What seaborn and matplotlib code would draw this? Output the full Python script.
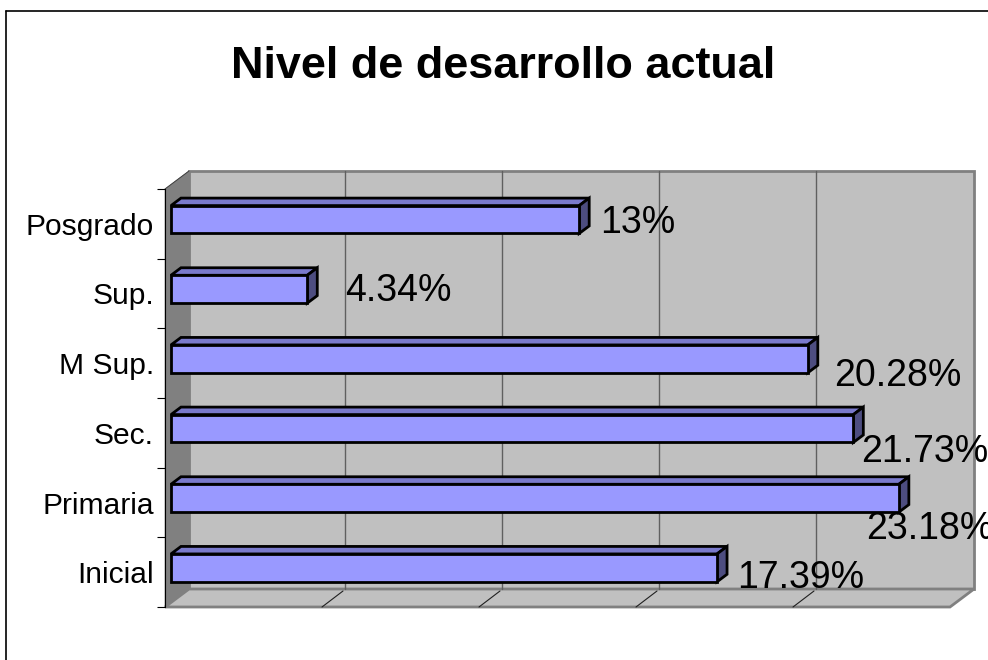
import matplotlib
matplotlib.use("Agg")
import matplotlib.pyplot as plt
from matplotlib.patches import Polygon, Rectangle
from matplotlib.transforms import Affine2D
import seaborn as sns

categories = ["Posgrado", "Sup.", "M Sup.", "Sec.", "Primaria", "Inicial"]
values = [13, 4.34, 20.28, 21.73, 23.18, 17.39]
value_labels = ["13%", "4.34%", "20.28%", "21.73%", "23.18%", "17.39%"]
title = "Nivel de desarrollo actual"

sns.set_theme(style="white")
plt.rcParams["font.family"] = ["Liberation Sans", "DejaVu Sans"]

W, H = 988, 660
fig = plt.figure(figsize=(W / 100, H / 100), dpi=100, facecolor="white")
# Front plane of the 3D box
L, R, T, B = 165, 950, 189, 607
ax = fig.add_axes([L / W, 1 - B / H, (R - L) / W, (B - T) / H])
ax.patch.set_alpha(0)

EDGE = 2.0
sns.barplot(y=categories, x=values, color="#9999FF", saturation=1, width=0.4,
            edgecolor="black", linewidth=EDGE, ax=ax, zorder=4)
ax.set_xlim(0, 25)
ax.set_ylim(5.5, -0.5)
ax.set_xlabel("")
ax.set_ylabel("")
for s in ["top", "right", "bottom"]:
    ax.spines[s].set_visible(False)
ax.spines["left"].set_color("black")
ax.spines["left"].set_linewidth(0.8)
ax.set_xticks([])
ax.set_yticks(range(len(categories)))
ax.set_yticklabels(categories, fontsize=21.6, color="black")
ax.tick_params(axis="y", which="major", length=0, pad=8, left=True)
ax.set_yticks([i - 0.5 for i in range(len(categories) + 1)], minor=True)
ax.tick_params(axis="y", which="minor", length=6, width=0.8, color="black", left=True)

pix = Affine2D().scale(1, -1).translate(0, H)  # pixel (top-left origin) to display
GRAY = "#808080"
WALL = "#C0C0C0"
DX, DY = 24, 18


def deco(pts, fc, ec, lw, z):
    ax.add_patch(Polygon(pts, closed=True, fc=fc, ec=ec, lw=lw, transform=pix,
                         zorder=z, clip_on=False, joinstyle="miter"))


deco([(L + DX, T - DY), (R + DX, T - DY), (R + DX, B - DY), (L + DX, B - DY)], WALL, GRAY, 2, 0.2)
deco([(L, T), (L + DX, T - DY), (L + DX, B - DY), (L, B)], GRAY, GRAY, 0.5, 0.3)
deco([(L, B), (L + DX, B - DY), (R + DX, B - DY), (R, B)], WALL, GRAY, 2, 0.3)
ax.plot([L, L + DX], [T, T - DY], color="#404040", lw=0.7, transform=pix, zorder=0.4, clip_on=False)

back = ax.transData + Affine2D().translate(DX - 1, DY)
for v in 5, 10, 15, 20:
    ax.plot([v, v], [5.5, -0.5], color="#606060", lw=1, transform=back, zorder=0.5, clip_on=False)
    fx, fy = ax.transData.transform((v, 5.5))
    ax.plot([fx, fx + DX - 3], [fy, fy + DY - 2], color="#202020", lw=0.8,
            transform=Affine2D(), zorder=0.5, clip_on=False)

# Bars sit in the middle of the box depth; add their 3D faces
shift = Affine2D().translate(6, 4.3)
bar_dx, bar_dy = 10, 7.5
for p in list(ax.patches):
    if not isinstance(p, Rectangle) or p.get_height() > 1:
        continue
    p.set_transform(ax.transData + shift)
    p.set_clip_on(False)
    x0, y0 = p.get_x(), p.get_y()
    x1, y1 = x0 + p.get_width(), y0 + p.get_height()
    tr = (ax.transData + shift).transform
    bl, br, tl, tr_ = tr((x0, y1)), tr((x1, y1)), tr((x0, y0)), tr((x1, y0))
    d = (bar_dx, bar_dy)
    ax.add_patch(Polygon([tl, tr_, tr_ + d, tl + d], fc="#7A7ACC", ec="black", lw=EDGE,
                         transform=Affine2D(), zorder=3, clip_on=False))
    ax.add_patch(Polygon([br, tr_, tr_ + d, br + d], fc="#4D4D80", ec="black", lw=EDGE,
                         transform=Affine2D(), zorder=3, clip_on=False))

label_pos = [(600, 223), (345, 291), (834, 376), (861, 452), (866, 529), (737, 578)]
for s, (x, y) in zip(value_labels, label_pos):
    ax.text(x, y, s, fontsize=27, color="black", ha="left", va="center", transform=pix,
            zorder=6, clip_on=False)

fig.text(503 / W, 1 - 66 / H, title, fontsize=32.4, fontweight="bold", color="black",
         ha="center", va="center")
fig.add_artist(plt.Line2D([5.5 / W, 5.5 / W], [0, 1 - 10.5 / H], color="black", lw=1.2))
fig.add_artist(plt.Line2D([5.5 / W, 1], [1 - 10.5 / H, 1 - 10.5 / H], color="black", lw=1.2))
fig.savefig("out.png", dpi=100)
